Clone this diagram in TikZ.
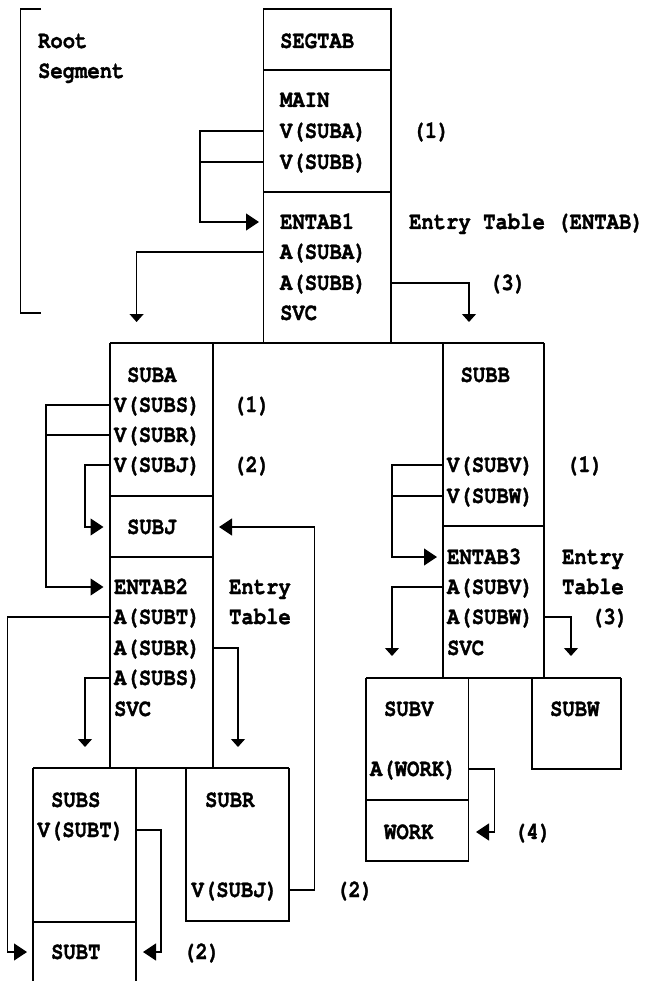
\documentclass[tikz,border=0pt]{standalone}
\usepackage{fontspec}
\usetikzlibrary{arrows.meta}
\newfontfamily\cour{TeX Gyre Cursor}[FakeStretch=0.84,FakeBold=1.2]
\tikzset{
  txt/.style={font=\cour\bfseries\fontsize{24.5pt}{28pt}\selectfont, inner sep=0pt, text height=14pt, text depth=0pt, anchor=west},
  harr/.style={-{Triangle[length=13pt,width=17pt]}},
  varr/.style={-{Triangle[length=8pt,width=14pt]}},
}
\begin{document}
\begin{tikzpicture}[x=1pt,y=-1pt,line width=1.1pt]
\useasboundingbox (0,0) rectangle (649,981);
% box edge coordinates
\coordinate (RL) at (263.7,0); \coordinate (RR) at (391,0);
\coordinate (AL) at (110,0);   \coordinate (AR) at (213,0);
\coordinate (BL) at (443,0);   \coordinate (BR) at (544,0);
\coordinate (SL) at (33,0);    \coordinate (SR) at (136,0);
\coordinate (QL) at (186,0);   \coordinate (QR) at (289,0);
\coordinate (VL) at (366,0);   \coordinate (VR) at (468.5,0);
\coordinate (WL) at (532,0);   \coordinate (WR) at (621,0);
% bend coordinates
\coordinate (k1) at (200,0); \coordinate (k2) at (46,0); \coordinate (k3) at (85,0);
\coordinate (k4) at (314.6,0); \coordinate (k5) at (7.5,0); \coordinate (k6) at (161,0);
\coordinate (k7) at (392,0); \coordinate (k8) at (494.6,0);
\coordinate (d1) at (136.6,322); \coordinate (d2) at (469,322);
\coordinate (d3) at (238,747); \coordinate (d4) at (85,747);
\coordinate (d5) at (392,656); \coordinate (d6) at (571,656);

% bracket
\draw (41,9) -- (20.7,9) -- (20.7,313) -- (41,313);
% root box
\draw (RL |- 0,343) -- (RL |- 0,9) -- (RR |- 0,9) -- (RR |- 0,343);
\draw (RL |- 0,70) -- (RR |- 0,70);
\draw (RL |- 0,192) -- (RR |- 0,192);
\draw (AL |- 0,343) -- (BR |- 0,343);
% SUBA
\draw (AL |- 0,343) -- (AL |- 0,768);
\draw (AR |- 0,343) -- (AR |- 0,768);
\draw (AL |- 0,496) -- (AR |- 0,496);
\draw (AL |- 0,557) -- (AR |- 0,557);
\draw (SL |- 0,768) -- (QR |- 0,768);
% SUBS
\draw (SL |- 0,768) -- (SL |- 0,981);
\draw (SR |- 0,768) -- (SR |- 0,981);
\draw (SL |- 0,922) -- (SR |- 0,922);
% SUBR
\draw (QL |- 0,768) -- (QL |- 0,921) -- (QR |- 0,921) -- (QR |- 0,768);
% SUBB
\draw (BL |- 0,343) -- (BL |- 0,678);
\draw (BR |- 0,343) -- (BR |- 0,678);
\draw (BL |- 0,526) -- (BR |- 0,526);
\draw (VL |- 0,678) -- (WR |- 0,678);
% SUBV
\draw (VL |- 0,678) -- (VL |- 0,861) -- (VR |- 0,861) -- (VR |- 0,678);
\draw (VL |- 0,800) -- (VR |- 0,800);
% SUBW
\draw (WL |- 0,678) -- (WL |- 0,769) -- (WR |- 0,769) -- (WR |- 0,678);

% texts
\node[txt] (root) at (37.5,41) {Root};
\node[txt] (segment) at (37.5,71) {Segment};
\node[txt] (segtab) at (279.5,41) {SEGTAB};
\node[txt] (main) at (279.5,100) {MAIN};
\node[txt] (vsuba) at (279.5,131) {V(SUBA)};
\node[txt] (vsubb) at (279.5,162) {V(SUBB)};
\node[txt] (entab1) at (279.5,222) {ENTAB1};
\node[txt] (asuba) at (279.5,252) {A(SUBA)};
\node[txt] (asubb) at (279.5,283) {A(SUBB)};
\node[txt] (svc1) at (279.5,313) {SVC};
\node[txt] (r1) at (412,131) {(1)};
\node[txt] (ent1) at (408.5,222) {Entry Table (ENTAB)};
\node[txt] (r3) at (488.5,283) {(3)};

\node[txt] (suba) at (126.5,375) {SUBA};
\node[txt] (vsubs) at (113.5,405) {V(SUBS)};
\node[txt] (vsubr) at (113.5,435) {V(SUBR)};
\node[txt] (vsubj) at (113.5,465) {V(SUBJ)};
\node[txt] (subj) at (126.5,527) {SUBJ};
\node[txt] (entab2) at (113.5,587) {ENTAB2};
\node[txt] (asubt) at (113.5,617) {A(SUBT)};
\node[txt] (asubr) at (113.5,648) {A(SUBR)};
\node[txt] (asubs) at (113.5,678) {A(SUBS)};
\node[txt] (svc2) at (113.5,709) {SVC};
\node[txt] (a1) at (232.5,405) {(1)};
\node[txt] (a2) at (232.5,465) {(2)};
\node[txt] (ent2a) at (228.5,587) {Entry};
\node[txt] (ent2b) at (228.5,617) {Table};

\node[txt] (subs) at (50.5,800) {SUBS};
\node[txt] (vsubt) at (37,830) {V(SUBT)};
\node[txt] (subt) at (50.5,952) {SUBT};
\node[txt] (s2) at (182.5,952) {(2)};
\node[txt] (subr) at (204.5,800) {SUBR};
\node[txt] (vsubj2) at (191,890) {V(SUBJ)};
\node[txt] (q2) at (335.5,890) {(2)};

\node[txt] (subb) at (460,375) {SUBB};
\node[txt] (vsubv) at (446.5,465) {V(SUBV)};
\node[txt] (vsubw) at (446.5,496) {V(SUBW)};
\node[txt] (entab3) at (446.5,557) {ENTAB3};
\node[txt] (asubv) at (446.5,587) {A(SUBV)};
\node[txt] (asubw) at (446.5,617) {A(SUBW)};
\node[txt] (svc3) at (446.5,648) {SVC};
\node[txt] (b1) at (565.5,465) {(1)};
\node[txt] (ent3a) at (561.5,557) {Entry};
\node[txt] (ent3b) at (561.5,587) {Table};
\node[txt] (b3) at (590.5,617) {(3)};

\node[txt] (subv) at (383.5,709) {SUBV};
\node[txt] (awork) at (369.5,769) {A(WORK)};
\node[txt] (work) at (383.5,832) {WORK};
\node[txt] (v4) at (513.5,832) {(4)};
\node[txt] (subw) at (549.5,709) {SUBW};

% connectors
\draw[harr] (RL |- vsuba.west) -- (k1 |- vsuba.west) |- ([xshift=-4.7pt]RL |- entab1.west);
\draw (RL |- vsubb.west) -- (k1 |- vsubb.west);
\draw[varr] (RL |- asuba.west) -| (d1);
\draw[varr] (RR |- asubb.west) -| (d2);

\draw[harr] (AL |- vsubs.west) -- (k2 |- vsubs.west) |- ([xshift=-6.5pt]AL |- entab2.west);
\draw (AL |- vsubr.west) -- (k2 |- vsubr.west);
\draw[harr] (AL |- vsubj.west) -- (k3 |- vsubj.west) |- ([xshift=-6.5pt]AL |- subj.west);
\draw[harr] (QR |- vsubj2.west) -- (k4 |- vsubj2.west) |- ([xshift=6pt]AR |- subj.west);
\draw[harr] (AL |- asubt.west) -- (k5 |- asubt.west) |- ([xshift=-6pt]SL |- subt.west);
\draw[varr] (AR |- asubr.west) -| (d3);
\draw[varr] (AL |- asubs.west) -| (d4);
\draw[harr] (SR |- vsubt.west) -- (k6 |- vsubt.west) |- ([xshift=7pt]SR |- subt.west);

\draw[harr] (BL |- vsubv.west) -- (k7 |- vsubv.west) |- ([xshift=-6pt]BL |- entab3.west);
\draw (BL |- vsubw.west) -- (k7 |- vsubw.west);
\draw[varr] (BL |- asubv.west) -| (d5);
\draw[varr] (BR |- asubw.west) -| (d6);
\draw[harr] (VR |- awork.west) -- (k8 |- awork.west) |- ([xshift=7.5pt]VR |- work.west);
\end{tikzpicture}
\end{document}
